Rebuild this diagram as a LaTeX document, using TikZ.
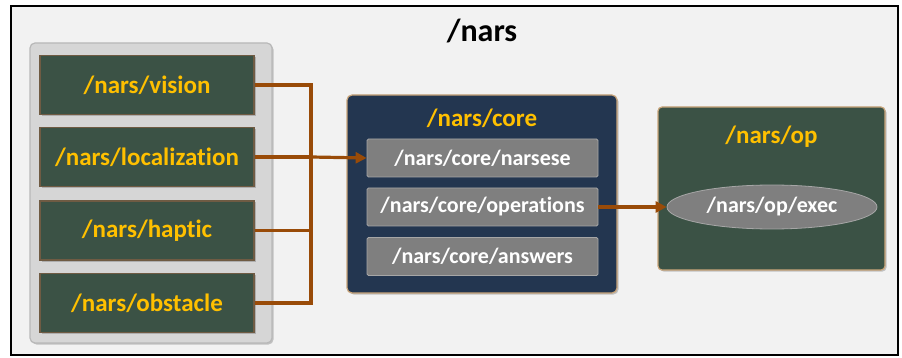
\documentclass[tikz,border=0pt]{standalone}
\usepackage{fontspec}
\setmainfont{Carlito}[Ligatures=NoCommon]
\usetikzlibrary{shapes.geometric,arrows.meta,shadows}
\definecolor{bgcol}{HTML}{F2F2F2}
\definecolor{panelcol}{HTML}{D6D6D6}
\definecolor{panelline}{HTML}{B8B8B8}
\definecolor{nodegreen}{HTML}{3B5245}
\definecolor{gold}{HTML}{FFC000}
\definecolor{navy}{HTML}{233650}
\definecolor{tan}{HTML}{C9A57A}
\definecolor{boxgray}{HTML}{7F7F7F}
\definecolor{boxline}{HTML}{A6A6A6}
\definecolor{wire}{HTML}{994B08}
\tikzset{
  softshadow/.style={drop shadow={shadow xshift=1.5pt,shadow yshift=-1.5pt,opacity=0.35,fill=black!60}},
  sensor/.style={draw=black!45!tan, line width=1.2pt, fill=nodegreen, softshadow,
    minimum width=214pt, minimum height=59pt, inner sep=0pt,
    text=gold, font=\bfseries\fontsize{25}{30}\selectfont},
  topic/.style={draw=boxline, line width=0.8pt, fill=boxgray, rounded corners=1.5pt,
    minimum width=231pt, minimum height=38pt, inner sep=0pt,
    text=white, font=\bfseries\fontsize{22}{26}\selectfont},
  groupbox/.style={draw=tan, line width=1.2pt, rounded corners=5pt, softshadow, inner sep=0pt},
  grouptitle/.style={text=gold, font=\bfseries\fontsize{25}{30}\selectfont},
  conn/.style={draw=wire, line width=3.2pt},
  tip/.style={-{Triangle[length=11pt,width=11pt]}}
}
\begin{document}
\begin{tikzpicture}[x=1pt,y=-1pt]
  \useasboundingbox (0,0) rectangle (902,358);
  % outer frame
  \fill[white] (0,0) rectangle (902,358);
  \draw[fill=bgcol, line width=2pt] (11,6) rectangle (898,355);
  \node[font=\bfseries\fontsize{32}{38}\selectfont] (title) at (482,31) {/nars};

  % sensor panel
  \draw[fill=panelcol, draw=panelline, line width=1.2pt, rounded corners=5pt, softshadow]
    (30,43) rectangle (272,343);
  \node[sensor] (vision) at (147,85) {/nars/vision};
  \node[sensor] (localization) at (147,157) {/nars/localization};
  \node[sensor] (haptic) at (147,230.5) {/nars/haptic};
  \node[sensor] (obstacle) at (147,303) {/nars/obstacle};

  % core group
  \node[groupbox, fill=navy, minimum width=270pt, minimum height=198pt] (core) at (482,194) {};
  \node[grouptitle] (coretitle) at (482,118) {/nars/core};
  \node[topic] (narsese) at (482.5,158) {/nars/core/narsese};
  \node[topic] (operations) at (482.5,207) {/nars/core/operations};
  \node[topic] (answers) at (482.5,256.5) {/nars/core/answers};

  % op group
  \node[groupbox, fill=nodegreen, minimum width=227pt, minimum height=163pt, rounded corners=4pt] (op) at (771.5,188.5) {};
  \node[grouptitle] (optitle) at (771.5,137) {/nars/op};
  \node[ellipse, draw=boxline, line width=0.8pt, fill=boxgray, minimum width=210pt, minimum height=44pt,
        inner sep=0pt, text=white, font=\bfseries\fontsize{22}{26}\selectfont] (exec) at (772,207) {/nars/op/exec};

  % sensor bus into the core
  \coordinate (bustop) at (311,85);
  \coordinate (busbot) at (311,303);
  \draw[conn, line join=miter] (vision.east) -- (bustop) -- (busbot) -- (obstacle.east);
  \draw[conn] (haptic.east) -- (haptic.east -| bustop);
  \draw[conn] (localization.east) -- (localization.east -| bustop);
  \draw[conn, tip] (localization.east -| bustop) -- (narsese.west);

  % operations to executor
  \draw[conn, tip] (operations.east) -- (exec.west);
\end{tikzpicture}
\end{document}
